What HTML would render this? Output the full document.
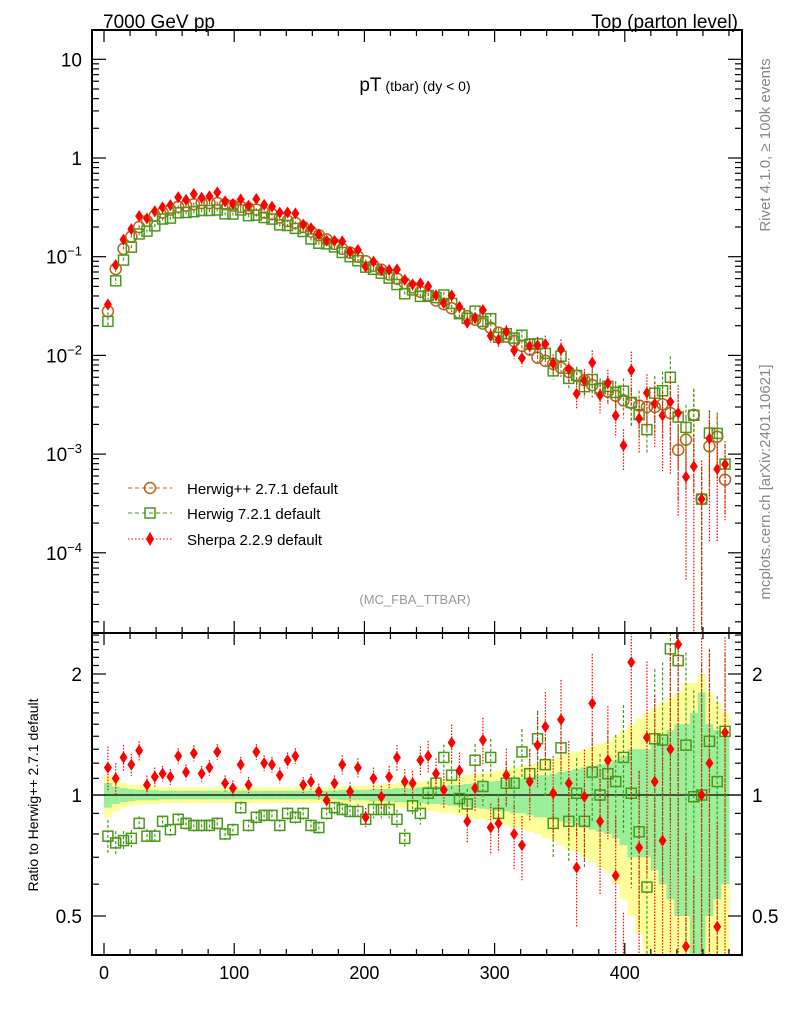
<!DOCTYPE html>
<html><head><meta charset="utf-8"><style>
body{margin:0;background:#fff;}
svg text{font-family:"Liberation Sans",sans-serif;}
</style></head><body>
<svg id="c" width="786" height="1024" viewBox="0 0 786 1024" xmlns="http://www.w3.org/2000/svg">
<text x="103" y="28" font-size="19">7000 GeV pp</text>
<text x="738" y="28" font-size="19" text-anchor="end">Top (parton level)</text>
<text x="415" y="91" text-anchor="middle"><tspan font-size="19">pT</tspan><tspan font-size="14"> (tbar) (dy &lt; 0)</tspan></text>
<text x="415" y="604" font-size="13" fill="#999" text-anchor="middle">(MC_FBA_TTBAR)</text>
<text transform="translate(770,145) rotate(-90)" font-size="15" fill="#888" text-anchor="middle">Rivet 4.1.0, ≥ 100k events</text>
<text transform="translate(770,482) rotate(-90)" font-size="15" fill="#888" text-anchor="middle">mcplots.cern.ch [arXiv:2401.10621]</text>
<text transform="translate(38,795) rotate(-90)" font-size="14" text-anchor="middle">Ratio to Herwig++ 2.7.1 default</text>
<g id="bands"></g><g id="marks"></g><g id="axes"></g>
<g>
<g><line x1="128" y1="488" x2="172" y2="488" stroke="#b5651d" stroke-dasharray="4,3"/><circle cx="150" cy="488" r="5.5" fill="none" stroke="#b5651d" stroke-width="1.5"/><text x="187" y="494" font-size="15">Herwig++ 2.7.1 default</text></g>
<g><line x1="128" y1="513" x2="172" y2="513" stroke="#4a9a1a" stroke-dasharray="4,3"/><rect x="145" y="508" width="10" height="10" fill="none" stroke="#4a9a1a" stroke-width="1.5"/><text x="187" y="519" font-size="15">Herwig 7.2.1 default</text></g>
<g><line x1="128" y1="539" x2="172" y2="539" stroke="#f00" stroke-dasharray="1.5,2"/><path d="M150,532 L154,539 L150,546 L146,539Z" fill="#f00"/><text x="187" y="545" font-size="15">Sherpa 2.2.9 default</text></g>
</g>
</svg>
<script>
const binCenters=[3,9,15,21,27,33,39,45,51,57,63,69,75,81,87,93,99,105,111,117,123,129,135,141,147,153,159,165,171,177,183,189,195,201,207,213,219,225,231,237,243,249,255,261,267,273,279,285,291,297,303,309,315,321,327,333,339,345,351,357,363,369,375,381,387,393,399,405,411,417,423,429,435,441,447,453,459,465,471,477];
const herwigppValues=[0.028,0.075,0.12,0.16,0.20,0.23,0.26,0.28,0.30,0.32,0.33,0.34,0.35,0.35,0.35,0.34,0.33,0.32,0.31,0.30,0.28,0.27,0.25,0.23,0.22,0.20,0.18,0.165,0.15,0.135,0.12,0.11,0.10,0.09,0.081,0.074,0.066,0.06,0.054,0.049,0.044,0.04,0.036,0.033,0.030,0.027,0.025,0.023,0.021,0.019,0.017,0.0155,0.014,0.0125,0.0115,0.0095,0.0088,0.0082,0.0075,0.0068,0.0062,0.0056,0.0050,0.0046,0.0043,0.0039,0.0035,0.0033,0.0031,0.0030,0.0030,0.0032,0.0026,0.0011,0.0014,0.0025,0.00035,0.0012,0.0015,0.00055];
const herwig7Ratio=[0.79,0.76,0.77,0.78,0.85,0.79,0.79,0.86,0.82,0.87,0.85,0.84,0.84,0.84,0.85,0.80,0.82,0.93,0.84,0.88,0.89,0.89,0.84,0.90,0.88,0.90,0.84,0.83,0.90,0.93,0.92,0.91,0.91,0.87,0.92,0.92,0.92,0.87,0.78,0.94,0.90,1.01,1.07,1.24,1.12,0.98,0.95,1.22,1.05,1.24,0.90,1.07,1.07,1.28,1.13,1.38,1.19,0.85,1.31,0.86,1.01,0.86,1.14,1.0,1.13,1.08,1.24,1.01,0.81,0.59,1.38,1.37,2.31,2.16,1.33,0.99,1.0,1.36,1.08,1.44];
const sherpaRatio=[1.17,1.10,1.24,1.19,1.29,1.06,1.11,1.13,1.11,1.25,1.14,1.27,1.13,1.17,1.28,1.07,1.04,1.19,1.06,1.28,1.20,1.19,1.12,1.22,1.25,1.06,1.08,1.02,0.97,1.07,1.19,1.02,1.17,0.88,1.10,0.99,1.11,1.24,1.08,1.07,1.22,1.25,1.13,1.03,1.35,1.15,0.86,1.04,1.37,0.83,0.85,1.12,0.80,0.75,1.08,1.33,1.48,1.01,1.54,1.07,0.66,0.99,1.69,0.86,1.22,0.63,0.35,2.14,0.74,1.39,1.08,0.77,1.3,2.37,0.42,0.3,1.0,1.2,0.47,1.43];
const greenErr=[0.07,0.05,0.04,0.035,0.03,0.03,0.03,0.025,0.025,0.025,0.025,0.025,0.025,0.025,0.025,0.025,0.025,0.025,0.025,0.025,0.025,0.025,0.025,0.025,0.025,0.025,0.025,0.025,0.025,0.025,0.03,0.03,0.03,0.03,0.035,0.035,0.035,0.04,0.04,0.04,0.045,0.05,0.05,0.055,0.06,0.06,0.065,0.07,0.075,0.08,0.085,0.09,0.1,0.1,0.11,0.12,0.12,0.13,0.14,0.15,0.16,0.17,0.18,0.19,0.2,0.22,0.25,0.3,0.3,0.3,0.35,0.4,0.45,0.5,0.5,0.6,0.8,0.5,0.45,0.4];
const yellowErr=[0.12,0.09,0.07,0.06,0.055,0.05,0.05,0.045,0.045,0.045,0.045,0.045,0.045,0.045,0.045,0.045,0.045,0.045,0.045,0.045,0.045,0.045,0.045,0.045,0.045,0.045,0.045,0.045,0.045,0.045,0.05,0.05,0.055,0.055,0.06,0.06,0.065,0.07,0.07,0.075,0.08,0.085,0.09,0.1,0.1,0.11,0.12,0.13,0.13,0.14,0.15,0.16,0.17,0.18,0.19,0.2,0.22,0.23,0.25,0.27,0.28,0.3,0.32,0.34,0.36,0.4,0.45,0.5,0.55,0.6,0.65,0.7,0.75,0.8,0.9,0.9,1.0,0.8,0.7,0.6];
const xTicks=[0,100,200,300,400];
const mainYTicks=[-4,-3,-2,-1,0,1];
const ratioYTicks=[0.5,1,2];

const NS="http://www.w3.org/2000/svg";
const L=92,R=742,MT=30,MB=633,RB=955;
const xs=v=>104+1.302*v;
const ym=v=>158-98.7*Math.log10(v);
const yr=v=>795-121*Math.log2(v);
const clampR=y=>Math.max(MB,Math.min(RB,y));
const clampM=y=>Math.max(MT,Math.min(MB,y));
function mk(p,tag,attrs){const e=document.createElementNS(NS,tag);for(const k in attrs)e.setAttribute(k,attrs[k]);p.appendChild(e);return e;}
const bands=document.getElementById('bands'),marks=document.getElementById('marks'),axes=document.getElementById('axes');
const hw=3;
// bands
binCenters.forEach((c,i)=>{
 const x0=xs(c-hw),x1=xs(c+hw);
 let lo=1-yellowErr[i];let yb=lo>0?clampR(yr(lo)):RB;let yt=clampR(yr(1+yellowErr[i]));
 const r1=mk(bands,'rect',{x:x0,y:yt,width:x1-x0+0.5,height:yb-yt,fill:'#ffff99'});
 
 
 lo=1-greenErr[i];yb=lo>0?clampR(yr(lo)):RB;yt=clampR(yr(1+greenErr[i]));
 const r2=mk(bands,'rect',{x:x0,y:yt,width:x1-x0+0.5,height:yb-yt,fill:'#99ee99'});
 
 
});
mk(bands,'line',{x1:L,y1:yr(1),x2:R,y2:yr(1),stroke:'#000','stroke-width':1.3});
function diamond(g,x,y){return mk(g,'path',{d:`M${x},${y-6} L${x+4},${y} L${x},${y+6} L${x-4},${y}Z`,fill:'#f00'});}
function errbar(g,x,y1,y2,col,dash){return mk(g,'line',{x1:x,y1:y1,x2:x,y2:y2,stroke:col,'stroke-dasharray':dash,'stroke-width':1.2});}
binCenters.forEach((c,i)=>{
 const x=xs(c);const e=greenErr[i]*1.4;
 // main panel
 const vh=herwigppValues[i],v7=vh*herwig7Ratio[i],vs=vh*sherpaRatio[i];
 errbar(marks,x,clampM(ym(vh*(1+e))),clampM(ym(Math.max(vh*(1-e),1e-6))),'#b5651d','3,2');
 const ch=mk(marks,'circle',{cx:x,cy:ym(vh),r:5.5,fill:'none',stroke:'#b5651d','stroke-width':1.5});
 
 
 errbar(marks,x,clampM(ym(v7*(1+e))),clampM(ym(Math.max(v7*(1-e),1e-6))),'#4a9a1a','3,2');
 const s7=mk(marks,'rect',{x:x-5,y:ym(v7)-5,width:10,height:10,fill:'none',stroke:'#4a9a1a','stroke-width':1.5});
 
 
 errbar(marks,x,clampM(ym(vs*(1+e*1.3))),clampM(ym(Math.max(vs*(1-e*1.3),1e-6))),'#f00','1.5,1.5');
 const d=diamond(marks,x,ym(vs));
 
 
 // ratio panel
 const r7=herwig7Ratio[i],rs=sherpaRatio[i];
 errbar(marks,x,clampR(yr(r7*(1+e))),clampR(r7*(1-e)>0?yr(r7*(1-e)):RB),'#4a9a1a','3,2');
 if(yr(r7)>=MB&&yr(r7)<=RB){const q=mk(marks,'rect',{x:x-5,y:yr(r7)-5,width:10,height:10,fill:'none',stroke:'#4a9a1a','stroke-width':1.5});
 
 }
 errbar(marks,x,clampR(yr(rs*(1+e*1.3))),clampR(rs*(1-e*1.3)>0?yr(rs*(1-e*1.3)):RB),'#f00','1.5,1.5');
 if(yr(rs)>=MB&&yr(rs)<=RB){const dd=diamond(marks,x,yr(rs));
 
 }
});
// frames
mk(axes,'rect',{x:L,y:MT,width:R-L,height:MB-MT,fill:'none',stroke:'#000','stroke-width':2});
mk(axes,'rect',{x:L,y:MB,width:R-L,height:RB-MB,fill:'none',stroke:'#000','stroke-width':2});
// x ticks
for(let v=0;v<=490;v+=20){const x=xs(v);if(x>R)break;const maj=v%100===0;const len=maj?12:6;
 [[MT,1],[MB,-1],[MB,1],[RB,-1]].forEach(([y,d])=>mk(axes,'line',{x1:x,y1:y,x2:x,y2:y+d*len,stroke:'#000','stroke-width':1.2}));}
xTicks.forEach(v=>{const t=mk(axes,'text',{x:xs(v),y:979,'font-size':18,'text-anchor':'middle'});t.textContent=v;
 
 });
// main y ticks
mainYTicks.forEach(p=>{const y=ym(Math.pow(10,p));
 [[L,1],[R,-1]].forEach(([x,d])=>mk(axes,'line',{x1:x,y1:y,x2:x+d*14,y2:y,stroke:'#000','stroke-width':1.2}));
 for(let k=2;k<=9;k++){const yy=ym(k*Math.pow(10,p));if(yy<MT)continue;[[L,1],[R,-1]].forEach(([x,d])=>mk(axes,'line',{x1:x,y1:yy,x2:x+d*7,y2:yy,stroke:'#000','stroke-width':1.2}));}
 const t=mk(axes,'text',{x:82,y:y+7,'font-size':19,'text-anchor':'end'});
 
 
 if(p===0)t.textContent='1';else if(p===1)t.textContent='10';else{t.textContent='10';const s=mk(t,'tspan',{dy:-8,'font-size':13});s.textContent='\u2212'+(-p);}
});
for(let k=2;k<=9;k++){const yy=ym(k*1e-5);if(yy<MB)[[L,1],[R,-1]].forEach(([x,d])=>mk(axes,'line',{x1:x,y1:yy,x2:x+d*7,y2:yy,stroke:'#000','stroke-width':1.2}));}
// ratio y ticks
for(let v=0.4;v<=2.5;v=Math.round((v+0.1)*10)/10){const y=yr(v);if(y<MB||y>RB)continue;const maj=[0.5,1,2].includes(v);
 [[L,1],[R,-1]].forEach(([x,d])=>mk(axes,'line',{x1:x,y1:y,x2:x+d*(maj?14:7),y2:y,stroke:'#000','stroke-width':1.2}));}
ratioYTicks.forEach(v=>{[[82,'end'],[752,'start']].forEach(([x,a])=>{const t=mk(axes,'text',{x:x,y:yr(v)+7,'font-size':19,'text-anchor':a});t.textContent=v;
 
 });});
</script>
</body></html>
